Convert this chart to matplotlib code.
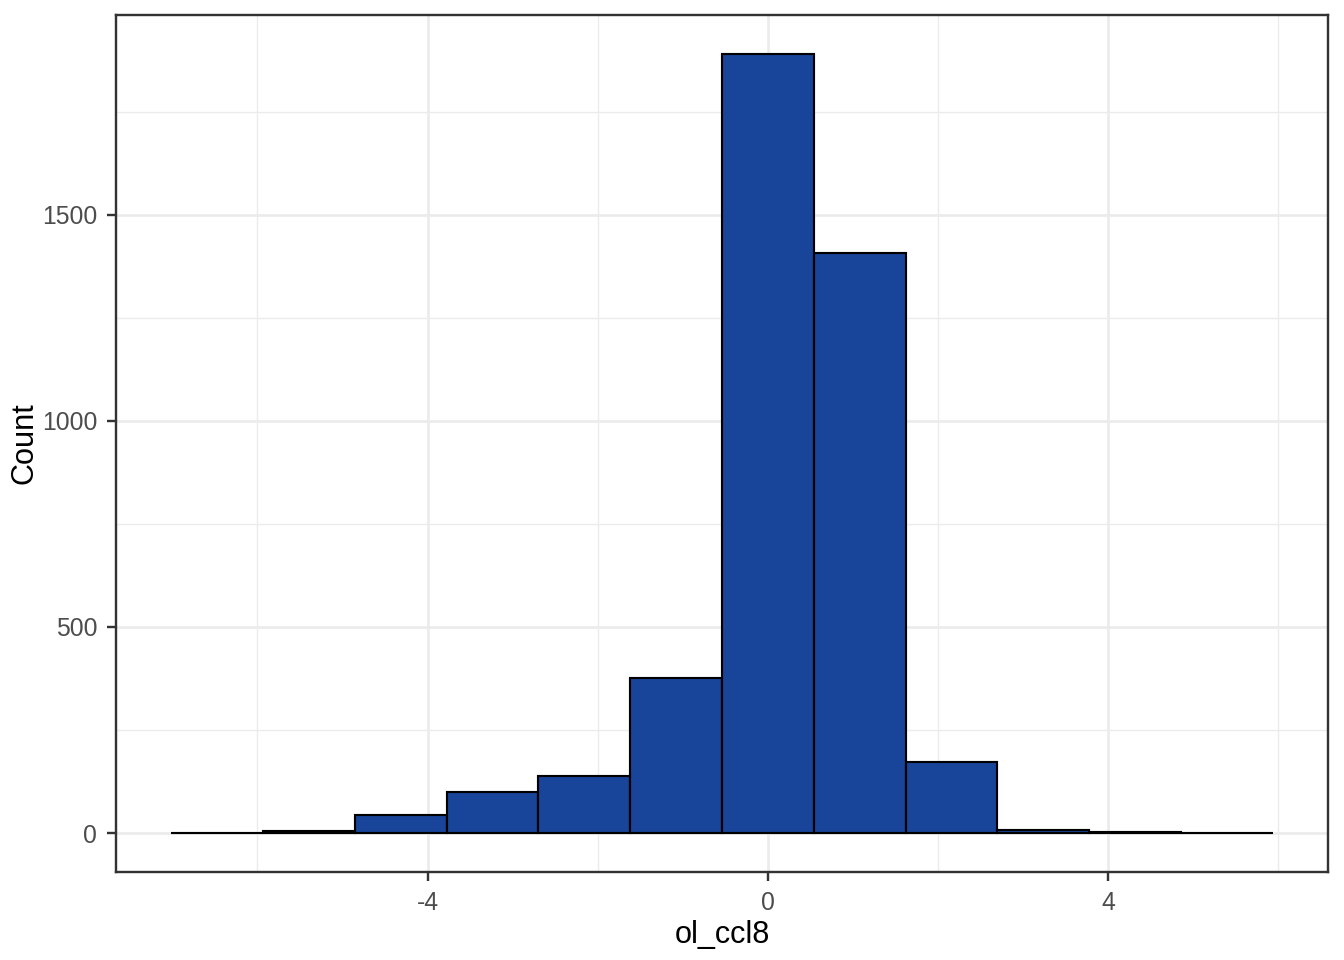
import numpy as np
import matplotlib
matplotlib.use("Agg")
from matplotlib import pyplot as plt

# histogram of ol_ccl8, binwidth ~1.08 with a bin centred on 0
bin_width = 1.079
bin_centers = np.arange(-6, 6) * bin_width
counts = [0, 6, 44, 99, 138, 377, 1890, 1408, 172, 7, 3, 0]

x_ticks = [-4, 0, 4]
x_minor = [-6, -2, 2, 6]
y_ticks = [0, 500, 1000, 1500]
y_minor = [250, 750, 1250, 1750]

plt.rcParams['font.family'] = ['Liberation Sans', 'DejaVu Sans']
plt.rcParams['axes.unicode_minus'] = False

fig = plt.figure(figsize=(7, 5), dpi=192)
ax = fig.add_axes([116 / 1344, 1 - 872 / 960, (1328 - 116) / 1344, (872 - 15) / 960])

ax.bar(bin_centers, counts, width=bin_width, color='#18449A',
       edgecolor='black', linewidth=0.8, zorder=3)

# ggplot default expansion 5%
xlo = bin_centers[0] - bin_width / 2
xhi = bin_centers[-1] + bin_width / 2
pad = (xhi - xlo) * 0.05
ax.set_xlim(xlo - pad, xhi + pad)
ymax = max(counts)
ax.set_ylim(-ymax * 0.05, ymax * 1.05)

ax.set_xticks(x_ticks)
ax.set_xticks(x_minor, minor=True)
ax.set_yticks(y_ticks)
ax.set_yticks(y_minor, minor=True)
ax.grid(which='major', color='#EBEBEB', linewidth=1.0, zorder=0)
ax.grid(which='minor', color='#EBEBEB', linewidth=0.5, zorder=0)
ax.set_axisbelow(True)

ax.tick_params(which='major', length=3.5, width=0.9, color='#333333',
               labelcolor='#4D4D4D', labelsize=9.3)
ax.tick_params(which='minor', length=0)
for s in ax.spines.values():
    s.set_color('#333333')
    s.set_linewidth(0.9)

ax.set_xlabel('ol_ccl8', fontsize=11.5, labelpad=2)
ax.set_ylabel('Count', fontsize=11.5, labelpad=1)

fig.savefig('out.png', dpi=192)
